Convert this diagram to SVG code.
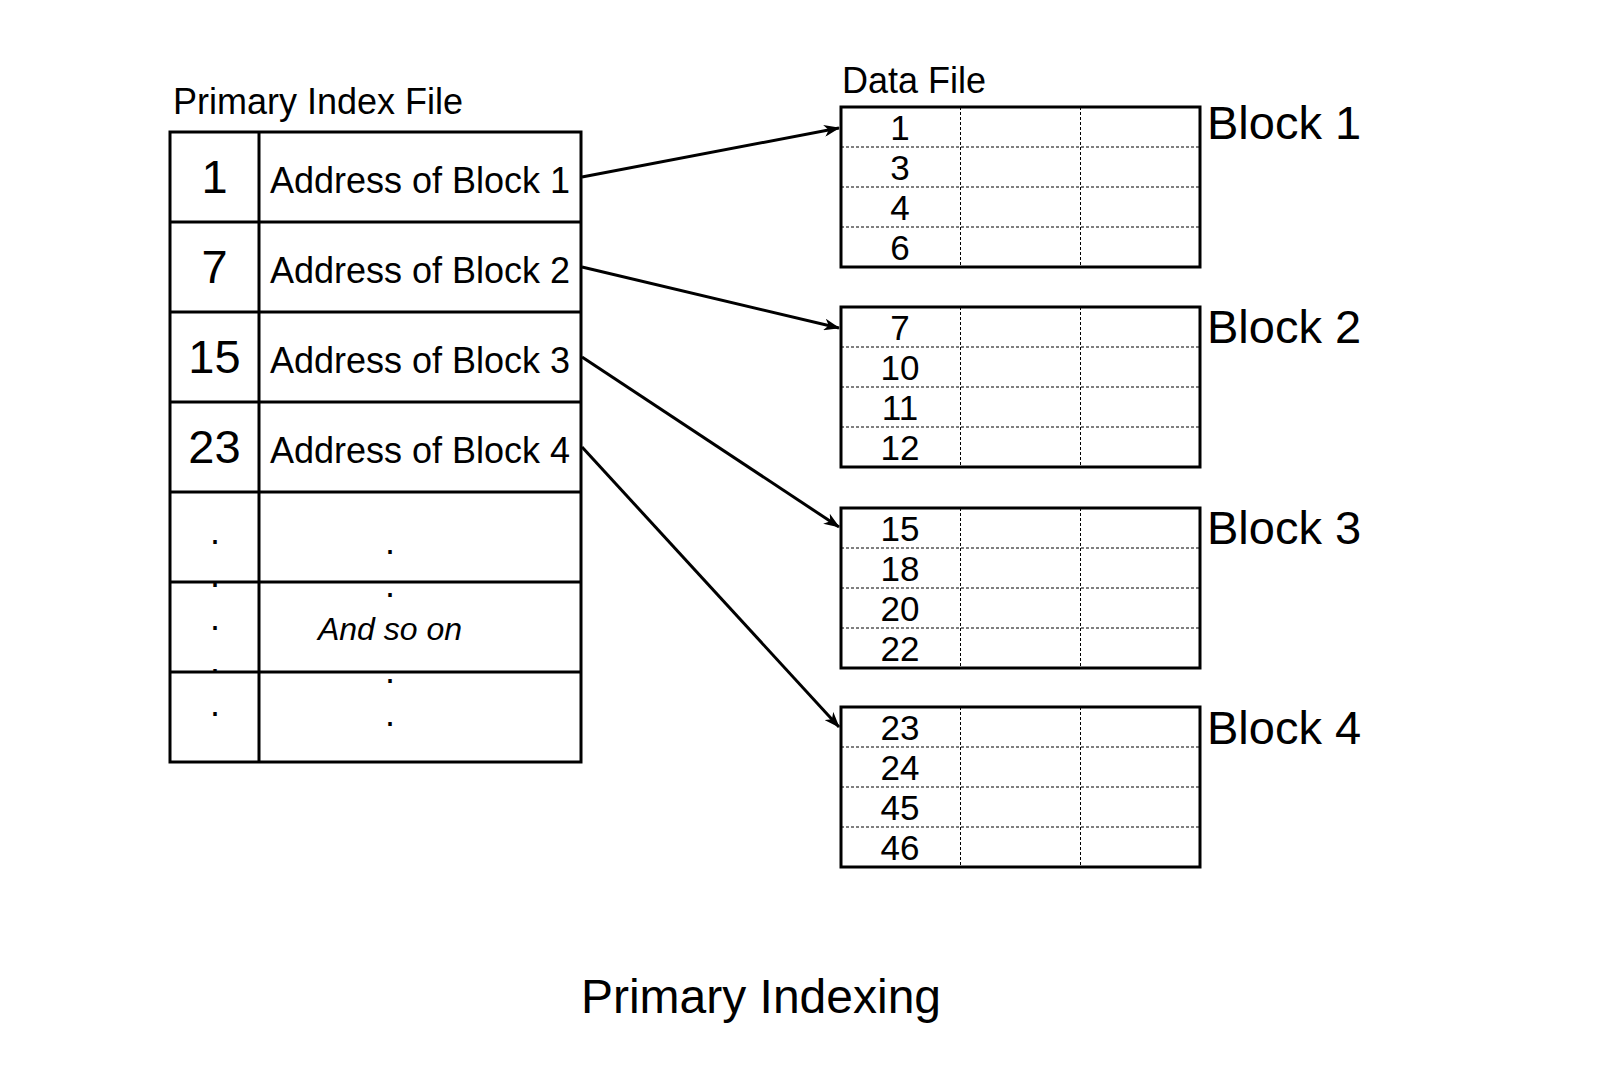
<svg xmlns="http://www.w3.org/2000/svg" width="1599" height="1085" viewBox="0 0 1599 1085">
  <style>
    text { font-family: "Liberation Sans", Arial, sans-serif; fill: #000; }
    .thick { fill: none; stroke: #000; stroke-width: 3; }
    .dash { fill: none; stroke: #000; stroke-width: 1; stroke-dasharray: 3 2; }
    .conn { fill: none; stroke: #000; stroke-width: 3; }
    .lbl { font-size: 36px; }
    .key { font-size: 47px; text-anchor: middle; }
    .addr { font-size: 36px; text-anchor: middle; }
    .num { font-size: 35px; text-anchor: middle; }
    .blk { font-size: 47px; }
    .dot { font-size: 36px; text-anchor: middle; }
  </style>
  <defs>
    <marker id="arrow" viewBox="0 0 16 12" refX="15" refY="6" markerWidth="16" markerHeight="12" markerUnits="userSpaceOnUse" orient="auto">
      <path d="M0,0 L16,6 L0,12 L4.5,6 Z" fill="#000"/>
    </marker>
  </defs>
  <rect width="1599" height="1085" fill="#fff"/>

  <g id="index-file">
    <text class="lbl" x="173" y="114">Primary Index File</text>
    <rect class="thick" x="170" y="132" width="411" height="630"/>
    <line class="thick" x1="259" y1="132" x2="259" y2="762"/>
    <line class="thick" x1="170" y1="222" x2="581" y2="222"/>
    <line class="thick" x1="170" y1="312" x2="581" y2="312"/>
    <line class="thick" x1="170" y1="402" x2="581" y2="402"/>
    <line class="thick" x1="170" y1="492" x2="581" y2="492"/>
    <line class="thick" x1="170" y1="582" x2="581" y2="582"/>
    <line class="thick" x1="170" y1="672" x2="581" y2="672"/>
    <text class="key" x="214.5" y="193">1</text>
    <text class="key" x="214.5" y="283">7</text>
    <text class="key" x="214.5" y="373">15</text>
    <text class="key" x="214.5" y="463">23</text>
    <text class="addr" x="420" y="193">Address of Block 1</text>
    <text class="addr" x="420" y="283">Address of Block 2</text>
    <text class="addr" x="420" y="373">Address of Block 3</text>
    <text class="addr" x="420" y="463">Address of Block 4</text>
    <text class="dot" x="215" y="544">.</text>
    <text class="dot" x="215" y="587">.</text>
    <text class="dot" x="215" y="630">.</text>
    <text class="dot" x="215" y="673">.</text>
    <text class="dot" x="215" y="716">.</text>
    <text class="dot" x="390" y="554">.</text>
    <text class="dot" x="390" y="597">.</text>
    <text x="390" y="640" font-size="32" font-style="italic" text-anchor="middle">And so on</text>
    <text class="dot" x="390" y="683">.</text>
    <text class="dot" x="390" y="726">.</text>
  </g>

  <text class="lbl" x="842" y="93">Data File</text>

  <g id="block1">
    <rect class="thick" x="841" y="107" width="359" height="160"/>
    <line class="dash" x1="841" y1="147" x2="1200" y2="147"/>
    <line class="dash" x1="841" y1="187" x2="1200" y2="187"/>
    <line class="dash" x1="841" y1="227" x2="1200" y2="227"/>
    <line class="dash" x1="960.5" y1="107" x2="960.5" y2="267"/>
    <line class="dash" x1="1080.5" y1="107" x2="1080.5" y2="267"/>
    <text class="num" x="900" y="140">1</text>
    <text class="num" x="900" y="180">3</text>
    <text class="num" x="900" y="220">4</text>
    <text class="num" x="900" y="260">6</text>
    <text class="blk" x="1207" y="139">Block 1</text>
  </g>

  <g id="block2">
    <rect class="thick" x="841" y="307" width="359" height="160"/>
    <line class="dash" x1="841" y1="347" x2="1200" y2="347"/>
    <line class="dash" x1="841" y1="387" x2="1200" y2="387"/>
    <line class="dash" x1="841" y1="427" x2="1200" y2="427"/>
    <line class="dash" x1="960.5" y1="307" x2="960.5" y2="467"/>
    <line class="dash" x1="1080.5" y1="307" x2="1080.5" y2="467"/>
    <text class="num" x="900" y="340">7</text>
    <text class="num" x="900" y="380">10</text>
    <text class="num" x="900" y="420">11</text>
    <text class="num" x="900" y="460">12</text>
    <text class="blk" x="1207" y="343">Block 2</text>
  </g>

  <g id="block3">
    <rect class="thick" x="841" y="508" width="359" height="160"/>
    <line class="dash" x1="841" y1="548" x2="1200" y2="548"/>
    <line class="dash" x1="841" y1="588" x2="1200" y2="588"/>
    <line class="dash" x1="841" y1="628" x2="1200" y2="628"/>
    <line class="dash" x1="960.5" y1="508" x2="960.5" y2="668"/>
    <line class="dash" x1="1080.5" y1="508" x2="1080.5" y2="668"/>
    <text class="num" x="900" y="541">15</text>
    <text class="num" x="900" y="581">18</text>
    <text class="num" x="900" y="621">20</text>
    <text class="num" x="900" y="661">22</text>
    <text class="blk" x="1207" y="544">Block 3</text>
  </g>

  <g id="block4">
    <rect class="thick" x="841" y="707" width="359" height="160"/>
    <line class="dash" x1="841" y1="747" x2="1200" y2="747"/>
    <line class="dash" x1="841" y1="787" x2="1200" y2="787"/>
    <line class="dash" x1="841" y1="827" x2="1200" y2="827"/>
    <line class="dash" x1="960.5" y1="707" x2="960.5" y2="867"/>
    <line class="dash" x1="1080.5" y1="707" x2="1080.5" y2="867"/>
    <text class="num" x="900" y="740">23</text>
    <text class="num" x="900" y="780">24</text>
    <text class="num" x="900" y="820">45</text>
    <text class="num" x="900" y="860">46</text>
    <text class="blk" x="1207" y="744">Block 4</text>
  </g>

  <g id="connectors">
    <line class="conn" x1="582" y1="177" x2="839" y2="128" marker-end="url(#arrow)"/>
    <line class="conn" x1="582" y1="267" x2="839" y2="328" marker-end="url(#arrow)"/>
    <line class="conn" x1="582" y1="357" x2="839" y2="527" marker-end="url(#arrow)"/>
    <line class="conn" x1="582" y1="447" x2="839" y2="727" marker-end="url(#arrow)"/>
  </g>

  <text x="761" y="1013" font-size="48" text-anchor="middle">Primary Indexing</text>
</svg>
